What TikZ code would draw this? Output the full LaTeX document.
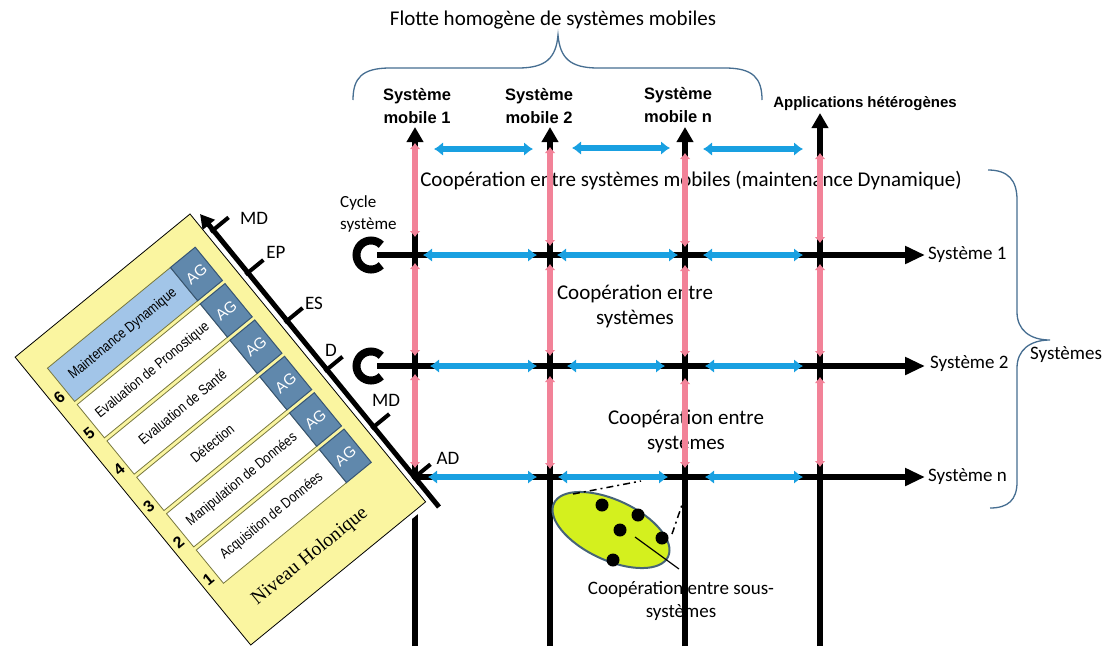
\documentclass[tikz,border=0pt]{standalone}
\usepackage{fontspec}
\setmainfont{Carlito}
\newfontfamily\arialf{Liberation Sans}
\newfontfamily\timesf{Liberation Serif}
\usetikzlibrary{arrows.meta,calc,shapes.geometric}
\definecolor{pinkl}{RGB}{242,130,152}
\definecolor{bluel}{RGB}{25,160,225}
\definecolor{bracec}{RGB}{70,110,145}
\definecolor{panely}{RGB}{250,245,160}
\definecolor{agblue}{RGB}{96,136,172}
\definecolor{agborder}{RGB}{55,85,115}
\definecolor{lightb}{RGB}{162,197,232}
\definecolor{ellfill}{RGB}{212,240,30}
\definecolor{ellline}{RGB}{70,100,120}
\definecolor{sepc}{RGB}{120,120,60}
\begin{document}
\begin{tikzpicture}[x=1pt,y=-1pt,
  blk/.style={line width=6pt,black},
  pinkarr/.style={line width=6.5pt,draw=pinkl,{Latex[length=6pt,width=11pt]}-{Latex[length=6pt,width=11pt]}},
  bluearr/.style={line width=6pt,draw=bluel,{Latex[length=9pt,width=14pt]}-{Latex[length=9pt,width=14pt]}},
  bracepath/.style={draw=bracec,line width=1.3pt},
  lab21/.style={font=\fontsize{21}{25}\selectfont,inner sep=0pt},
  lab19/.style={font=\fontsize{19}{23}\selectfont,inner sep=0pt},
  lab17/.style={font=\fontsize{17}{22}\selectfont,inner sep=0pt},
  boldlab/.style={font=\arialf\bfseries\fontsize{16.5}{23}\selectfont,inner sep=0pt},
  boldsmall/.style={font=\arialf\bfseries\fontsize{15}{18}\selectfont,inner sep=0pt},
  layertxt/.style={font=\arialf\fontsize{14.5}{16}\selectfont,inner sep=0pt},
  agbox/.style={draw=agborder,fill=agblue,line width=1pt,minimum width=32pt,minimum height=43pt,inner sep=0pt,text=white,font=\arialf\fontsize{15.5}{17}\selectfont},
  numf/.style={font=\arialf\bfseries\fontsize{16}{18}\selectfont,inner sep=0pt},
  zoomline/.style={line width=1.5pt,dash pattern=on 7pt off 4pt on 2pt off 4pt},
  dot/.style={circle,fill=black,minimum size=13pt,inner sep=0pt}
]
\fill[white] (0,0) rectangle (1107,646);
\useasboundingbox (0,0) rectangle (1107,646);

% ---------- texts (behind lines) ----------
\node[lab21] (flotte) at (553,20) {Flotte homogène de systèmes mobiles};
\node[lab21] (coopmob) at (691,181) {Coopération entre systèmes mobiles (maintenance Dynamique)};
\node[lab21,align=center] (coop1) at (635,306) {Coopération entre\\systèmes};
\node[lab21,align=center] (coop2) at (686,431) {Coopération entre\\systèmes};
\node[lab19,align=center] (coopss) at (681,601) {Coopération entre sous-\\systèmes};
\node[lab17,align=left,anchor=west] (cycle) at (340,214) {Cycle\\système};
\node[lab19,anchor=west] (sys1) at (928,255) {Système 1};
\node[lab19,anchor=west] (sys2) at (930,364) {Système 2};
\node[lab19,anchor=west] (sysn) at (928,477) {Système n};
\node[lab19] (systemes) at (1066,355) {Systèmes};
\node[boldlab,align=center] (sm1) at (417,106) {Système\\mobile 1};
\node[boldlab,align=center] (sm2) at (539,106) {Système\\mobile 2};
\node[boldlab,align=center] (smn) at (678,105) {Système\\mobile n};
\node[boldsmall] (apps) at (865,104) {Applications hétérogènes};

% ---------- braces ----------
\coordinate (bl) at (353,100); \coordinate (br) at (762,100); \coordinate (btip) at (558,35);
\draw[bracepath] (bl) .. controls (353,78) and (362,68) .. (390,68) -- (518,68)
  .. controls (546,68) and (556,58) .. (btip) .. controls (560,58) and (570,68) .. (598,68)
  -- (725,68) .. controls (753,68) and (762,78) .. (br);
\coordinate (rt) at (988,170); \coordinate (rb) at (990,508); \coordinate (rtip) at (1050,340);
\draw[bracepath] (rt) .. controls (1008,170) and (1017,180) .. (1017,200) -- (1017,312)
  .. controls (1017,330) and (1030,340) .. (rtip) .. controls (1030,340) and (1017,350) .. (1017,368)
  -- (1017,482) .. controls (1017,500) and (1008,508) .. (rb);

% ---------- grid ----------
\foreach \i/\x/\t in {1/415/127,2/550/127,3/685/127,4/820/113}{
  \coordinate (top\i) at (\x,\t);
  \coordinate (bot\i) at (\x,646);
  \draw[blk,-{Triangle[length=15pt,width=16pt]}] (bot\i) -- (top\i);
}
\coordinate (start1) at (377,255); \coordinate (start2) at (377,366); \coordinate (start3) at (412,477);
\foreach \j/\y in {1/255,2/366,3/477}{
  \coordinate (end\j) at (925,\y);
  \draw[blk,-{Triangle[length=20pt,width=17pt]}] (start\j) -- (end\j);
}
% cycle symbols
\coordinate (cyc1) at (371,255); \coordinate (cyc2) at (371,366);
\foreach \c in {cyc1,cyc2}{
  \draw[line width=8pt] ($(\c)+(45:14.5)$) arc[start angle=45,end angle=315,radius=14.5];
}

% pink vertical double arrows
\foreach \x/\a/\b [count=\k] in {415/143/237,415/263/356,415/374/468,
  550/147/246,550/264/356,550/376/469,
  685/153/247,685/265/357,685/378/468,
  820/153/243,820/264/357,820/377/467}{
  \coordinate (pa\k) at (\x,\a); \coordinate (pb\k) at (\x,\b);
  \draw[pinkarr] (pa\k) -- (pb\k);
}
% blue horizontal double arrows
\foreach \a/\b/\y [count=\k] in {434/533/149,572/670/148,703/803/149,
  423/537/255,557/678/255,703/803/255,
  430/537/366,567/665/366,705/803/366,
  428/537/477,558/668/477,705/803/477}{
  \coordinate (ba\k) at (\a,\y); \coordinate (bb\k) at (\b,\y);
  \draw[bluearr] (ba\k) -- (bb\k);
}

% ---------- sub-system ellipse ----------
\node[ellipse,draw=ellline,fill=ellfill,line width=2pt,minimum width=126pt,minimum height=60pt,rotate=-25] (ell) at (611,530) {};
\node[dot] (d1) at (602,505) {};
\node[dot] (d2) at (638,515) {};
\node[dot] (d3) at (620,530) {};
\node[dot] (d4) at (662,538) {};
\node[dot] (d5) at (613,560) {};
\coordinate (z1a) at (573,494); \coordinate (z1b) at (641,481);
\coordinate (z2a) at (672,534); \coordinate (z2b) at (684,499);
\draw[zoomline] (z1a) -- (z1b);
\draw[zoomline] (z2a) -- (z2b);
\coordinate (lda) at (635,537); \coordinate (ldb) at (679,569);
\draw[line width=1.2pt] (lda) -- (ldb);

% ---------- holonic panel ----------
\begin{scope}[shift={(190pt,-214pt)},rotate=39.3,transform shape]
  \draw[white,line width=9pt] (-226,0) rectangle (0,372);
  \draw[fill=panely,draw=black,line width=0.8pt] (-226,0) rectangle (0,372);
  \foreach \i/\c/\t/\n in {0/lightb/Maintenance Dynamique/6,
      1/white/Evaluation de Pronostique/5,
      2/white/Evaluation de Santé/4,
      3/white/Détection/3,
      4/white/Manipulation de Données/2,
      5/white/Acquisition de Données/1}{
    \pgfmathsetmacro\vz{29+47*\i}
    \path[draw=sepc,fill=\c,line width=0.8pt] (-208,\vz) rectangle (-49,\vz+43);
    \node[layertxt] (row\n) at (-128,\vz+21.5) {\scalebox{0.84}[1]{\t}};
    \node[agbox] (ag\n) at (-33,\vz+21.5) {AG};
    \node[numf] (num\n) at (-217,\vz+30) {\n};
  }
  \node[font=\timesf\fontsize{19.5}{22}\selectfont,inner sep=0pt] (niveau) at (-124,341) {Niveau Holonique};
\end{scope}

% ---------- diagonal axis ----------
\coordinate (O) at (415,477);
\coordinate (axtip) at (200,214);
\coordinate (axend) at (439,507);
\draw[line width=5pt,-{Triangle[length=14pt,width=15pt]}] (axend) -- (axtip);
\foreach \s/\k in {319/1,264/2,202/3,139/4,65/5,0/6}{
  \coordinate (tka\k) at ($(O)+(-0.633*\s-2.3,-0.774*\s+1.9)$);
  \coordinate (tkb\k) at ($(O)+(-0.633*\s+15.5,-0.774*\s-12.7)$);
  \draw[line width=4pt] (tka\k) -- (tkb\k);
}
\node[lab19] (lmd1) at (254,218) {MD};
\node[lab19] (lep) at (276,252) {EP};
\node[lab19] (les) at (314,303) {ES};
\node[lab19] (ld) at (331,350) {D};
\node[lab19] (lmd2) at (386,400) {MD};
\node[lab19] (lad) at (448,458) {AD};
\end{tikzpicture}
\end{document}
